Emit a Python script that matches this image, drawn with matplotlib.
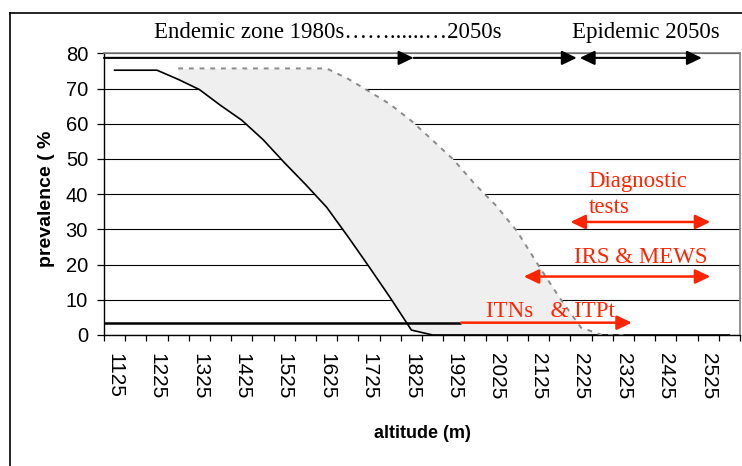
import matplotlib
matplotlib.use("Agg")
import matplotlib.pyplot as plt
from matplotlib.patches import FancyArrowPatch
from matplotlib.lines import Line2D
import numpy as np

# ---------------- data ----------------
altitude = [1125, 1175, 1225, 1275, 1325, 1375, 1425, 1475, 1525, 1575,
            1625, 1675, 1725, 1775, 1825, 1875, 1925, 1975, 2025, 2075,
            2125, 2175, 2225, 2275, 2325, 2375, 2425, 2475, 2525, 2575]
prev_1980s = [75.2, 75.2, 75.2, 72.6, 69.7, 65.2, 61.0, 55.5, 49.0, 42.8,
              36.3, 28.0, 19.4, 10.6, 1.4, 0.0, 0.0, 0.0, 0.0, 0.0,
              0.0, 0.0, 0.0, 0.0, 0.0, 0.0, 0.0, 0.0, 0.0, 0.0]
prev_2050s = [np.nan, np.nan, np.nan, 75.7, 75.7, 75.7, 75.7, 75.7, 75.7, 75.7,
              75.7, 72.8, 69.2, 65.5, 60.8, 55.3, 49.7, 42.8, 36.7, 29.3,
              19.7, 10.5, 2.1, 0.0, 0.0, np.nan, np.nan, np.nan, np.nan, np.nan]
tick_labels = ["1125", "1225", "1325", "1425", "1525", "1625", "1725", "1825",
               "1925", "2025", "2125", "2225", "2325", "2425", "2525"]

# zones (altitude ranges, m) and their levels (% prevalence)
zone_endemic = [1100, 1830]
zone_endemic2050 = [1830, 2215]
zone_epidemic = [2222, 2510]
zone_level = 78.7
itn_black = [1100, 1942]
itn_red = [1942, 2345]
itn_level = 3.5
irs_range = [2090, 2530]
irs_level = 16.6
diag_range = [2200, 2530]
diag_level = 32.1

RED = "#ff2400"
SERIF = "Liberation Serif"
SANS = "Liberation Sans"
TXT = 16.5

def pos(a):
    return (a - altitude[0]) / (altitude[1] - altitude[0])

x = np.arange(len(altitude))
solid = np.array(prev_1980s)
dashed = np.array(prev_2050s)

fig = plt.figure(figsize=(7.42, 4.66), dpi=100)
ax = fig.add_axes([104 / 742, 131 / 466, 636 / 742, 281.7 / 466])

ax.fill_between(x, solid, dashed, where=~np.isnan(dashed), color="#efefef", lw=0, zorder=1)
ax.plot(x, solid, color="black", lw=1.2, zorder=3)
ax.plot(x, dashed, color="#8a8a8a", lw=1.4, ls=(0, (2.5, 3)), zorder=3)

ax.set_xlim(-0.5, len(altitude) - 0.5)
ax.set_ylim(0, 80)
ax.set_yticks(range(0, 81, 10))
ax.grid(axis="y", color="black", lw=0.8)
ax.set_axisbelow(True)

for s in ("top", "right"):
    ax.spines[s].set_color("#808080")
    ax.spines[s].set_linewidth(1.2)
for s in ("left", "bottom"):
    ax.spines[s].set_color("black")
    ax.spines[s].set_linewidth(1.0)

ax.set_xticks(np.arange(-0.5, len(altitude), 1))
ax.set_xticklabels([])
ax.tick_params(axis="x", which="major", length=4.5, width=0.9, direction="out")
ax.set_xticks([pos(int(t)) for t in tick_labels], minor=True)
ax.set_xticklabels(tick_labels, minor=True, rotation=-90, fontsize=15,
                   family=SANS, va="top", ha="center")
ax.tick_params(axis="x", which="minor", length=0, pad=13)
ax.tick_params(axis="y", length=5, width=0.9, pad=6.5, labelsize=14.5)
for lab in ax.get_yticklabels():
    lab.set_family(SANS)

ax.set_ylabel("prevalence ( %", fontsize=14, fontweight="bold", family=SANS, va="center")
ax.yaxis.set_label_coords(-0.0905, 0.483)
ax.set_xlabel("altitude (m)", fontsize=13, fontweight="bold", family=SANS, va="center")
ax.xaxis.set_label_coords(0.5, -0.348)


def arrow(a0, a1, yv, style, color, lw):
    p = FancyArrowPatch((pos(a0), yv), (pos(a1), yv), arrowstyle=style,
                        mutation_scale=1, color=color, lw=lw,
                        shrinkA=0, shrinkB=0, zorder=5, clip_on=False)
    ax.add_patch(p)

blk = "-|>,head_length=9,head_width=4.3"
dbl = "<|-|>,head_length=9,head_width=4.3"
arrow(zone_endemic[0], zone_endemic[1], zone_level, blk, "black", 1.5)
arrow(zone_endemic2050[0], zone_endemic2050[1], zone_level, blk, "black", 1.5)
arrow(zone_epidemic[0], zone_epidemic[1], zone_level, dbl, "black", 1.5)

ax.plot([pos(itn_black[0]), pos(itn_black[1])], [itn_level, itn_level],
        color="black", lw=1.8, zorder=4, solid_capstyle="butt")
arrow(itn_red[0], itn_red[1], itn_level, blk, RED, 1.8)
arrow(irs_range[0], irs_range[1], irs_level, dbl, RED, 1.8)
arrow(diag_range[0], diag_range[1], diag_level, dbl, RED, 1.8)

ax.text(pos(2243), 40.0, "Diagnostic\ntests", color=RED, family=SERIF, fontsize=TXT,
        ha="left", va="center", linespacing=1.3, zorder=6)
ax.text(pos(2208), 22.0, "IRS & MEWS", color=RED, family=SERIF, fontsize=TXT,
        ha="left", va="center", zorder=6)
ax.text(pos(2001), 6.6, "ITNs   & ITPt", color=RED, family=SERIF, fontsize=TXT,
        ha="left", va="center", zorder=6)

fig.text(154 / 742, 1 - 38 / 466, "Endemic zone 1980s……......…2050s", family=SERIF,
         fontsize=TXT, ha="left", va="baseline")
fig.text(572 / 742, 1 - 38 / 466, "Epidemic 2050s", family=SERIF,
         fontsize=TXT, ha="left", va="baseline")

fig.add_artist(Line2D([10 / 742, 10 / 742], [0, 1 - 13 / 466], transform=fig.transFigure,
                      color="black", lw=1.2))
fig.add_artist(Line2D([10 / 742, 1], [1 - 13 / 466, 1 - 13 / 466], transform=fig.transFigure,
                      color="black", lw=1.2))

fig.savefig("out.png", dpi=100)
